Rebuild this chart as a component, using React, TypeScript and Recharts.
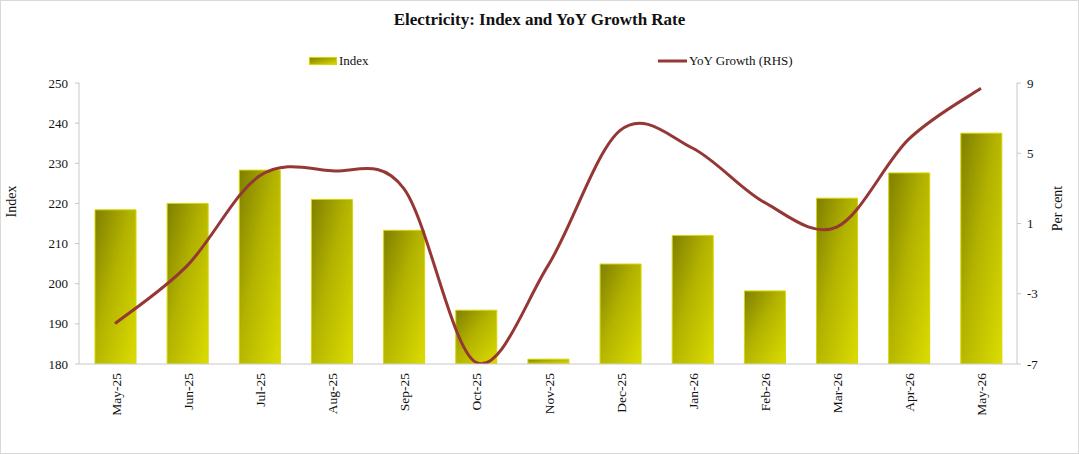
import React from 'react';
import { Bar, ComposedChart, Line, XAxis, YAxis } from 'recharts';

// Monthly electricity index (left axis) and year-on-year growth in per cent (right axis)
const months = [
  'May-25', 'Jun-25', 'Jul-25', 'Aug-25', 'Sep-25', 'Oct-25', 'Nov-25',
  'Dec-25', 'Jan-26', 'Feb-26', 'Mar-26', 'Apr-26', 'May-26',
];
const indexValues = [218.4, 220.0, 228.3, 221.0, 213.3, 193.4, 181.2, 204.9, 212.0, 198.2, 221.3, 227.6, 237.5];
const yoyGrowth = [-4.7, -1.4, 3.7, 4.0, 3.0, -6.9, -1.4, 6.3, 5.3, 2.2, 0.8, 5.8, 8.7];

const indexTicks = [180, 190, 200, 210, 220, 230, 240, 250];
const growthTicks = [-7, -3, 1, 5, 9];
const edgeTicks = months.map((_, i) => i).concat(months.length);

const data = months.map((month, i) => ({
  month,
  index: indexValues[i],
  yoy: yoyGrowth[i],
}));

const FONT = '"Liberation Serif", "Times New Roman", serif';
const AXIS_GREY = '#c8c8c8';
const LINE_RED = '#953735';

// Catmull-Rom style smoothing, close to the spreadsheet "smoothed line" look
function smoothCurve(context: any) {
  let pts: [number, number][] = [];
  return {
    areaStart() {},
    areaEnd() {},
    lineStart() {
      pts = [];
    },
    lineEnd() {
      if (!pts.length) return;
      context.moveTo(pts[0][0], pts[0][1]);
      for (let i = 0; i < pts.length - 1; i++) {
        const p0 = pts[i - 1] || pts[i];
        const p1 = pts[i];
        const p2 = pts[i + 1];
        const p3 = pts[i + 2] || p2;
        context.bezierCurveTo(
          p1[0] + (p2[0] - p0[0]) / 6,
          p1[1] + (p2[1] - p0[1]) / 6,
          p2[0] - (p3[0] - p1[0]) / 6,
          p2[1] - (p3[1] - p1[1]) / 6,
          p2[0],
          p2[1],
        );
      }
    },
    point(x: number, y: number) {
      pts.push([x, y]);
    },
  };
}

const MonthTick = ({ x, y, payload }: any) => {
  const tx = x + 1;
  const ty = y + 1;
  return (
    <text
      x={tx}
      y={ty}
      transform={`rotate(-90, ${tx}, ${ty})`}
      textAnchor="end"
      dominantBaseline="central"
      fontFamily={FONT}
      fontSize={13.5}
      fill="#111"
    >
      {payload.value}
    </text>
  );
};

const tickStyle = { fontFamily: FONT, fontSize: 13, fill: '#111' };

export default function App() {
  return (
    <div style={{ position: 'absolute', left: 0, top: 0, width: 1079, height: 454, background: '#fff' }}>
      <div
        style={{
          position: 'absolute', inset: 0, border: '1px solid #d9d9d9', boxSizing: 'border-box', pointerEvents: 'none',
        }}
      />
      <div
        style={{
          position: 'absolute', top: 10, left: 0, width: 1079, textAlign: 'center',
          fontFamily: FONT, fontWeight: 'bold', fontSize: 17, color: '#111', lineHeight: '20px',
        }}
      >
        Electricity: Index and YoY Growth Rate
      </div>

      {/* legend */}
      <div style={{ position: 'absolute', top: 52, left: 309, display: 'flex', alignItems: 'center', fontFamily: FONT, fontSize: 13, color: '#111', lineHeight: '18px' }}>
        <svg width={28} height={8} style={{ marginRight: 2 }}>
          <defs>
            <linearGradient id="legendFill" x1="0" y1="0" x2="1" y2="1">
              <stop offset="0%" stopColor="#7f7f00" />
              <stop offset="100%" stopColor="#dcdc00" />
            </linearGradient>
          </defs>
          <rect x={0.5} y={0.5} width={27} height={7} fill="url(#legendFill)" stroke="#d6d600" />
        </svg>
        Index
      </div>
      <div style={{ position: 'absolute', top: 52, left: 658, display: 'flex', alignItems: 'center', fontFamily: FONT, fontSize: 13, color: '#111', lineHeight: '18px' }}>
        <svg width={30} height={8} style={{ marginRight: 1 }}>
          <line x1={0} y1={4} x2={29} y2={4} stroke={LINE_RED} strokeWidth={3} />
        </svg>
        YoY Growth (RHS)
      </div>

      <div style={{ position: 'absolute', left: 0, top: 0 }}>
        <ComposedChart width={1079} height={454} data={data} margin={{ top: 83, right: 0, bottom: 0, left: 0 }}>
          <defs>
            <linearGradient id="barFill" x1="0" y1="0" x2="1" y2="1">
              <stop offset="0%" stopColor="#7f7f00" />
              <stop offset="45%" stopColor="#b3b300" />
              <stop offset="100%" stopColor="#dcdc00" />
            </linearGradient>
          </defs>
          {/* tick marks between months */}
          <XAxis
            xAxisId="edges"
            type="number"
            domain={[0, months.length]}
            ticks={edgeTicks}
            tick={false}
            axisLine={false}
            tickLine={{ stroke: AXIS_GREY }}
            tickSize={4}
            height={0}
          />
          <XAxis
            dataKey="month"
            height={90}
            interval={0}
            tickLine={false}
            axisLine={{ stroke: AXIS_GREY }}
            tick={<MonthTick />}
          />
          <YAxis
            yAxisId="left"
            width={79}
            domain={[180, 250]}
            ticks={indexTicks}
            interval={0}
            allowDataOverflow
            axisLine={{ stroke: AXIS_GREY }}
            tickLine={{ stroke: AXIS_GREY }}
            tickSize={4}
            tickMargin={7}
            tick={tickStyle}
            label={{ value: 'Index', angle: -90, position: 'center', dx: -28, dy: -22, style: { fontFamily: FONT, fontSize: 14, fill: '#111' } }}
          />
          <YAxis
            yAxisId="right"
            orientation="right"
            width={62}
            domain={[-7, 9]}
            ticks={growthTicks}
            interval={0}
            allowDataOverflow
            axisLine={{ stroke: AXIS_GREY }}
            tickLine={{ stroke: AXIS_GREY }}
            tickSize={4}
            tickMargin={6}
            tick={tickStyle}
            label={{ value: 'Per cent', angle: -90, position: 'center', dx: 9, dy: -15, style: { fontFamily: FONT, fontSize: 14, fill: '#111' } }}
          />
          <Bar
            yAxisId="left"
            dataKey="index"
            barSize={41}
            fill="url(#barFill)"
            stroke="#d6d600"
            strokeWidth={1}
            isAnimationActive={false}
          />
          <Line
            yAxisId="right"
            dataKey="yoy"
            type={smoothCurve as any}
            stroke={LINE_RED}
            strokeWidth={3}
            dot={false}
            activeDot={false}
            isAnimationActive={false}
          />
        </ComposedChart>
      </div>
    </div>
  );
}
